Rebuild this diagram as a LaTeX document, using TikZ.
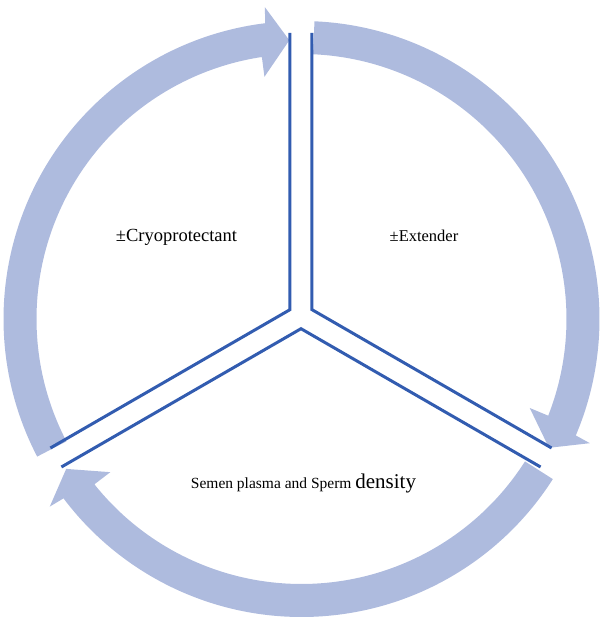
\documentclass[tikz,border=0pt]{standalone}
\usepackage{fontspec}
\setmainfont{Liberation Serif}
\usetikzlibrary{calc}
\definecolor{bandblue}{RGB}{174,187,222}
\definecolor{lineblue}{RGB}{50,92,176}
% #1 = angle of the divider at which the arrow ends
\newcommand\cyclearrow[1]{%
  \fill[band] ({#1+120-2.5}:298pt)
    arc[start angle={#1+120-2.5}, end angle={#1+7}, radius=298pt]
    -- ({#1+6.7}:314pt) -- ({#1+2.5}:279pt) -- ({#1+8.7}:245pt) -- ({#1+8.6}:265pt)
    arc[start angle={#1+8.6}, end angle={#1+120-2.5}, radius=265pt] -- cycle;}
\begin{document}
\begin{tikzpicture}[x=1pt,y=1pt,
  band/.style={fill=bandblue},
  divider/.style={draw=lineblue, line width=3pt, line join=miter},
  lbl/.style={inner sep=0pt, anchor=base}]
\useasboundingbox (-301.5,-300) rectangle (300.5,319);

% circular arrows
\cyclearrow{90}
\cyclearrow{-30}
\cyclearrow{210}

% Y divider
\coordinate (C) at (-0.5,3);
\coordinate (VLtop) at ($(C)+(-11,283)$);
\coordinate (VRtop) at ($(C)+(11,283)$);
\coordinate (JL) at ($(C)+(-11,6.35)$);
\coordinate (JR) at ($(C)+(11,6.35)$);
\coordinate (Apex) at ($(C)+(0,-12.7)$);
\coordinate (ULend) at ($(C)+(-250.6,-132)$);
\coordinate (URend) at ($(C)+(250.6,-132)$);
\coordinate (LLend) at ($(C)+(-239.6,-151)$);
\coordinate (LRend) at ($(C)+(239.6,-151)$);
\draw[divider] (VLtop) -- (JL) -- (ULend);
\draw[divider] (VRtop) -- (JR) -- (URend);
\draw[divider] (LLend) -- (Apex) -- (LRend);

% labels
\node[lbl, font=\fontsize{18.5}{22}\selectfont] (cryo) at (-125,78) {±Cryoprotectant};
\node[lbl, font=\fontsize{16.5}{20}\selectfont] (ext) at (122.5,78) {±Extender};
\node[lbl, font=\fontsize{15.5}{19}\selectfont] (semen) at (2,-169) {Semen plasma and Sperm {\fontsize{21}{25}\selectfont density}};
\end{tikzpicture}
\end{document}
